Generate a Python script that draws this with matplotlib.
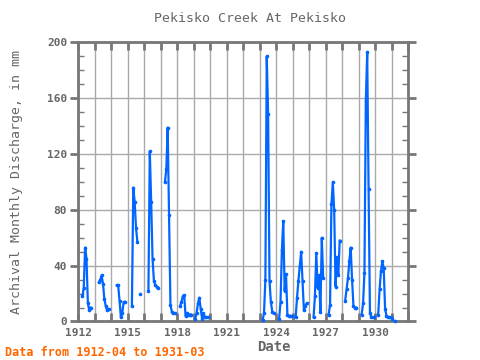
import numpy as np
import matplotlib
matplotlib.use('Agg')
import matplotlib.pyplot as plt
from matplotlib.ticker import MultipleLocator, FuncFormatter

# seasonal runs of monthly discharge (mm), first month of each run
season_start = ['1912-04', '1913-04', '1914-05', '1915-04', '1915-10',
                '1916-04', '1917-04', '1918-03', '1919-02', '1923-03',
                '1924-03', '1925-03', '1926-04', '1927-03', '1928-03',
                '1929-03', '1930-03', '1931-03']
season_values = [
    [18, 24, 53, 45, 13, 8, 10],
    [28, 30, 33, 27, 16, 11, 8, 9],
    [26, 26, 15, 3, 6, 14, 14],
    [11, 96, 86, 67, 57],
    [20],
    [22, 122, 86, 45, 29, 26, 25, 24],
    [100, 109, 139, 76, 12, 7, 6, 6],
    [11, 14, 18, 19, 4, 6, 5, 5, 5],
    [2, 6, 13, 17, 9, 2, 6, 3, 3, 3],
    [1, 6, 30, 190, 149, 29, 14, 7, 6],
    [2, 14, 51, 72, 22, 34, 5, 4, 4, 4],
    [3, 17, 29, 40, 50, 29, 8, 11, 13],
    [3, 18, 49, 24, 33, 7, 60, 31],
    [5, 12, 84, 100, 80, 25, 46, 33, 58],
    [15, 23, 31, 43, 53, 30, 11, 10, 10],
    [5, 13, 35, 158, 193, 95, 6, 3, 3, 3],
    [5, 23, 36, 43, 38, 9, 4, 3, 3, 3, 2],
    [0],
]

# full monthly series 1912-04 .. 1931-03, gaps left as NaN
n_months = (1931 - 1912) * 12 + (3 - 4) + 1
values = np.full(n_months, np.nan)
for start, vals in zip(season_start, season_values):
    y, m = map(int, start.split('-'))
    i = (y - 1912) * 12 + (m - 4)
    values[i:i + len(vals)] = vals
t = 1912 + (3 + np.arange(n_months)) / 12.0

gray = '#666666'
mono = 'DejaVu Sans Mono'

fig = plt.figure(figsize=(4.8, 3.6), dpi=100)
ax = fig.add_axes([0.163, 0.107, 0.688, 0.775])

ax.plot(t, values, color='#0066ff', lw=1.6, marker='o', ms=1.6,
        clip_on=False, zorder=3)

ax.set_xlim(1912, 1932)
ax.set_ylim(0, 200)

ax.xaxis.set_major_locator(MultipleLocator(1))
ax.xaxis.set_major_formatter(FuncFormatter(
    lambda v, p: '%d' % round(v) if int(round(v - 1912)) % 3 == 0 else ''))
ax.yaxis.set_major_locator(MultipleLocator(40))
ax.yaxis.set_minor_locator(MultipleLocator(10))

ax.grid(True, which='major', color='#aaaaaa', lw=1)
ax.set_axisbelow(True)

ax.tick_params(axis='x', which='major', direction='in', top=True,
               length=6, width=2, color='#777777', pad=5,
               labelsize=8, labelcolor=gray)
ax.tick_params(axis='y', which='major', direction='out', right=True,
               length=6, width=2, color='#777777', pad=2,
               labelsize=8, labelcolor=gray)
ax.tick_params(axis='y', which='minor', direction='in', right=True,
               length=4, width=1, color='#777777')
for lab in ax.get_xticklabels() + ax.get_yticklabels():
    lab.set_family(mono)
    lab.set_fontweight('bold')

for s in ax.spines.values():
    s.set_color('#777777')
    s.set_linewidth(2)

fig.text(0.52, 0.95, 'Pekisko Creek At Pekisko', ha='center', va='center',
         family=mono, fontsize=9.5, color=gray)
fig.text(0.035, 0.494, 'Archival Monthly Discharge, in mm', rotation=90,
         ha='center', va='center', family=mono, fontsize=9.5, color=gray)
fig.text(0.571, 0.036, 'Date', ha='center', va='center', family=mono,
         fontsize=10, fontweight='bold', color=gray)
fig.text(0.01, 0.022, 'Data from 1912-04 to 1931-03', ha='left',
         va='center', family=mono, fontsize=8.5, fontweight='bold',
         color='#ff6600')

fig.savefig('out.png', dpi=100)
